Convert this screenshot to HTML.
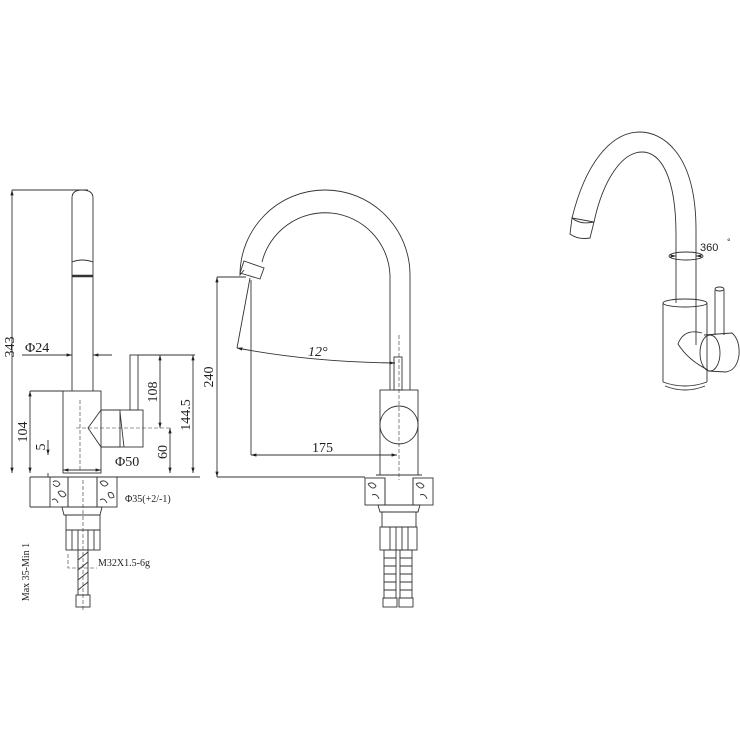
<!DOCTYPE html>
<html><head><meta charset="utf-8"><style>
html,body{margin:0;padding:0;background:#fff}
svg{display:block}
text{font-family:"Liberation Serif",serif;fill:#222}
text.s{font-family:"Liberation Sans",sans-serif}
</style></head><body>
<svg width="740" height="740" viewBox="0 0 740 740" xmlns="http://www.w3.org/2000/svg">
<defs>
<marker id="a" viewBox="0 0 10 10" refX="10" refY="5" markerWidth="6" markerHeight="6" orient="auto-start-reverse"><path d="M0,2 L10,5 L0,8 z" fill="#222"/></marker>
</defs>
<g fill="none" stroke="#333" stroke-width="0.9">
<!-- LEFT VIEW -->
<path d="M72,391 V198 Q72,190 82,190 Q93,190 93,198 V391"/>
<path d="M72,262 Q82,258 93,262"/>
<path d="M72,276 H93" stroke-width="2.5"/>
<rect x="63" y="391" width="38" height="82"/>
<rect x="130" y="355" width="8" height="55"/>
<rect x="120" y="410" width="23" height="37"/>
<path d="M101,410 H120 M101,447 H120 M101,410 L88,428 L101,447"/>
<path d="M120,412 L124,447" />
<path d="M80,400 V470 M76,428 H170" stroke-dasharray="4,2" stroke-width="0.6"/>
<!-- dims left -->
<path d="M12,473 V190" marker-start="url(#a)" marker-end="url(#a)"/>
<path d="M12,190 H88"/>
<path d="M22,355 H72" marker-end="url(#a)"/><path d="M112,355 H93" marker-end="url(#a)"/>
<path d="M30,473 V391" marker-start="url(#a)" marker-end="url(#a)"/><path d="M30,391 H63"/>
<path d="M48,440 V455" marker-end="url(#a)"/><path d="M48,477 V473"/>
<path d="M138,355 H195"/>
<path d="M160,428 V355" marker-start="url(#a)" marker-end="url(#a)"/>
<path d="M193,473 V355" marker-start="url(#a)" marker-end="url(#a)"/>
<path d="M170,473 V428" marker-start="url(#a)" marker-end="url(#a)"/>
<path d="M63,470 H101" marker-start="url(#a)" marker-end="url(#a)"/>
<path d="M30,477 H200"/>
<path d="M30,477 V507 M30,507 H50"/>
<!-- base left -->
<rect x="50" y="477" width="18" height="30"/><rect x="97" y="477" width="20" height="30"/>
<path d="M68,477 V507 M97,477 V507 M62,507 H102 L100,515 H64 Z"/>
<path d="M53,482 q4,-3 7,2 q-3,5 -7,0 M58,492 q5,-3 8,3 q-4,5 -8,-3 M52,500 q4,-3 6,3 M100,482 q5,-3 8,2 q-4,5 -8,-2 M108,493 q5,-2 6,4 q-5,3 -6,-4 M100,500 q4,-3 7,3"/>
<rect x="66" y="515" width="34" height="35"/>
<path d="M72,530 V550 M78,530 V550 M88,530 V550 M94,530 V550 M66,530 H100"/>
<rect x="78" y="550" width="10" height="45"/>
<path d="M78,560 L88,552 M78,570 L88,562 M78,580 L88,572 M78,590 L88,582"/>
<rect x="76" y="595" width="14" height="12"/>
<path d="M68,554 V568 H97 M83,480 V612" stroke-dasharray="4,2" stroke-width="0.6"/>
<!-- MIDDLE VIEW -->
<path d="M410,390 V275 A85,85 0 0 0 240,275 L244,270"/>
<path d="M390,390 V275 A65,65 0 0 0 262,262"/>
<path d="M244,261 L264,268 L260,279 L240,273 Z"/>
<rect x="380" y="390" width="38" height="85"/>
<circle cx="399" cy="425" r="19"/>
<rect x="394" y="357" width="8" height="33"/>
<path d="M399,335 V480" stroke-dasharray="4,2" stroke-width="0.6"/>
<rect x="365" y="478" width="20" height="27"/><rect x="413" y="478" width="20" height="27"/>
<path d="M385,478 V505 M413,478 V505 M376,475 H422 M378,505 H420 L418,512 H380 Z"/>
<path d="M368,484 q5,-3 8,2 q-3,5 -8,-2 M372,495 q5,-2 7,4 M416,484 q5,-3 8,2 q-3,5 -8,-2 M420,495 q5,-2 7,4"/>
<rect x="382" y="512" width="34" height="15"/>
<rect x="380" y="527" width="37" height="23"/>
<path d="M390,527 V550 M396,527 V550 M402,527 V550 M408,527 V550"/>
<rect x="384" y="550" width="12" height="48"/><rect x="400" y="550" width="12" height="48"/>
<path d="M384,558 H396 M384,566 H396 M384,574 H396 M384,582 H396 M384,590 H396 M400,558 H412 M400,566 H412 M400,574 H412 M400,582 H412 M400,590 H412"/>
<rect x="383" y="598" width="14" height="9"/><rect x="399" y="598" width="14" height="9"/>
<!-- dims middle -->
<path d="M217,477 V277" marker-start="url(#a)" marker-end="url(#a)"/>
<path d="M217,277 H246 M217,477 H365"/>
<path d="M250,278 L237,348"/>
<path d="M237,348 Q310,362 395,363" marker-start="url(#a)" marker-end="url(#a)"/>
<path d="M251,280 V455"/>
<path d="M251,455 H397" marker-start="url(#a)" marker-end="url(#a)"/>
<!-- RIGHT VIEW -->
<path d="M696,345 V230 C696,150 660,132 640,132 C610,132 585,165 572,218"/>
<path d="M676,303 V235 C676,175 660,152 642,152 C622,152 603,180 594,222"/>
<path d="M572,218 L594,222 L590,238 Q578,240 570,234 Z"/>
<path d="M572,218 Q580,225 594,222"/>
<ellipse cx="686" cy="256" rx="17" ry="4"/>
<path d="M672,256 h4" marker-end="url(#a)"/><path d="M700,256 h-4" marker-end="url(#a)"/>
<path d="M663,303 V382 M707,303 V382"/>
<ellipse cx="685" cy="303" rx="22" ry="4"/>
<path d="M663,382 Q685,390 707,382 M665,386 Q685,394 705,386"/>
<path d="M715,290 V335 M724,290 V335"/>
<ellipse cx="719.5" cy="289" rx="4.5" ry="2"/>
<path d="M702,333 Q684,328 678,344 Q688,360 708,370"/>
<path d="M704,335 L732,333 Q740,340 739,355 Q737,370 726,372 L708,371"/>
<ellipse cx="710" cy="353" rx="10" ry="18"/>
</g>
<g font-size="14">
<text x="25" y="352">Φ24</text>
<text transform="translate(14,347) rotate(-90)" text-anchor="middle">343</text>
<text transform="translate(27,432) rotate(-90)" text-anchor="middle">104</text>
<text transform="translate(45,447) rotate(-90)" text-anchor="middle">5</text>
<text transform="translate(157,392) rotate(-90)" text-anchor="middle">108</text>
<text transform="translate(190,415) rotate(-90)" text-anchor="middle">144.5</text>
<text transform="translate(167,452) rotate(-90)" text-anchor="middle">60</text>
<text x="115" y="466">Φ50</text>
<text transform="translate(213,377) rotate(-90)" text-anchor="middle">240</text>
<text x="308" y="356" font-style="italic">12°</text>
<text x="312" y="452">175</text>
</g>
<g font-size="10">
<text x="125" y="502">Φ35(+2/-1)</text>
<text x="98" y="566">M32X1.5-6g</text>
<text transform="translate(29,572) rotate(-90)" text-anchor="middle">Max  35-Min  1</text>
</g>
<text class="s" x="700" y="251" font-size="11">360</text>
<text class="s" x="727" y="245" font-size="9">°</text>
</svg>
</body></html>
